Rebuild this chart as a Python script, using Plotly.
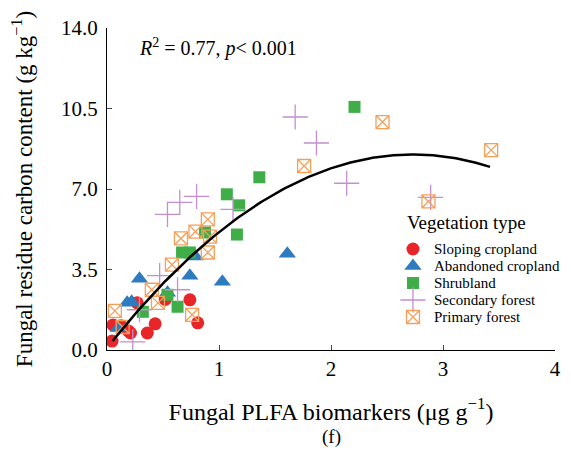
import plotly.graph_objects as go
import numpy as np

# ---- data ----
slope_x = [0.045, 0.054, 0.125, 0.19, 0.21, 0.36, 0.43, 0.27, 0.74, 0.81, 0.52]
slope_y = [0.39, 1.09, 1.05, 0.83, 0.74, 0.74, 1.14, 2.05, 2.18, 1.18, 2.2]

aband_x = [0.10, 0.18, 0.22, 0.29, 0.54, 0.74, 0.79, 1.03, 1.61]
aband_y = [0.96, 2.05, 2.10, 3.10, 2.49, 3.23, 4.06, 2.97, 4.19]

shrub_x = [0.32, 0.54, 0.63, 0.67, 0.74, 0.875, 1.16, 1.18, 1.07, 1.36, 2.21]
shrub_y = [1.66, 2.40, 1.88, 4.24, 4.24, 5.11, 5.02, 6.29, 6.77, 7.51, 10.57]

second_x = [0.23, 0.29, 0.47, 0.63, 0.54, 0.65, 0.80, 1.125, 1.68, 1.87, 2.14, 2.89]
second_y = [0.35, 1.75, 3.23, 2.62, 5.90, 6.42, 6.68, 6.11, 10.13, 9.00, 7.25, 6.64]

primary_x = [0.07, 0.14, 0.40, 0.455, 0.58, 0.76, 0.66, 0.79, 0.92, 0.90, 0.90, 1.76, 2.46, 3.43, 2.87]
primary_y = [1.70, 1.00, 2.62, 2.05, 3.71, 1.53, 4.85, 5.15, 4.93, 4.24, 5.68, 8.00, 9.91, 8.69, 6.46]

# quadratic fit line coefficients and range
fit_c2, fit_c1, fit_c0 = -1.128, 6.159, 0.093
fit_xmin, fit_xmax = 0.05, 3.42

x_ticks = [0, 1, 2, 3, 4]
y_ticks = [0.0, 3.5, 7.0, 10.5, 14.0]
y_tick_labels = ["0.0", "3.5", "7.0", "10.5", "14.0"]

legend_title = "Vegetation type"
series_names = ["Sloping cropland", "Abandoned cropland", "Shrubland", "Secondary forest", "Primary forest"]

FONT = "Liberation Serif"

styles = [
    dict(symbol="circle", size=13, color="#e8262a"),
    dict(symbol="triangle-up", size=15, color="#2f7bbf"),
    dict(symbol="square", size=12, color="#3fae49"),
    dict(symbol="cross-thin-open", size=18, color="#c48fd0", line=dict(width=1.3, color="#c48fd0")),
    dict(symbol="square-x-open", size=13, color="#f5a05a", line=dict(width=1.3, color="#f5a05a")),
]
all_x = [slope_x, aband_x, shrub_x, second_x, primary_x]
all_y = [slope_y, aband_y, shrub_y, second_y, primary_y]

fig = go.Figure()

for name, xs, ys, mk in zip(series_names, all_x, all_y, styles):
    fig.add_trace(go.Scatter(x=xs, y=ys, mode="markers", name=name, marker=mk, showlegend=False))

fx = np.linspace(fit_xmin, fit_xmax, 200)
fy = fit_c2 * fx**2 + fit_c1 * fx + fit_c0
fig.add_trace(go.Scatter(x=fx, y=fy, mode="lines", line=dict(color="black", width=2.5),
                         showlegend=False, hoverinfo="skip"))

# ---- hand-built legend (layout only) on an overlay axis spanning [0,1] ----
LEG_MARK_X = 0.683
LEG_TEXT_X = 0.7254
LEG_TITLE_X = 0.665
LEG_TITLE_Y = 0.3975
LEG_ROW0_Y = 0.3137
LEG_ROW_STEP = 0.0528

annotations = []
for i, (name, mk) in enumerate(zip(series_names, styles)):
    ry = LEG_ROW0_Y - i * LEG_ROW_STEP
    fig.add_trace(go.Scatter(x=[LEG_MARK_X], y=[ry], xaxis="x2", yaxis="y2", mode="markers",
                             marker=mk, showlegend=False, hoverinfo="skip"))
    annotations.append(dict(text=name, x=LEG_TEXT_X, y=ry, xref="paper", yref="paper",
                            xanchor="left", yanchor="middle", showarrow=False,
                            font=dict(size=15, family=FONT)))
annotations.append(dict(text=legend_title, x=LEG_TITLE_X, y=LEG_TITLE_Y, xref="paper", yref="paper",
                        xanchor="left", yanchor="middle", showarrow=False, font=dict(size=19, family=FONT)))
annotations.append(dict(text="<i>R</i><sup>2</sup> = 0.77, <i>p</i>< 0.001", x=0.067, y=0.94,
                        xref="paper", yref="paper", xanchor="left", yanchor="middle", showarrow=False,
                        font=dict(size=20, family=FONT)))
annotations.append(dict(text="(f)", x=0.5, y=-0.27, xref="paper", yref="paper", xanchor="center",
                        yanchor="middle", showarrow=False, font=dict(size=19, family=FONT)))

# page body has an 8px default margin, so the figure is 8px smaller and margins shifted
fig.update_layout(
    width=563, height=446,
    margin=dict(l=99, r=16, t=20, b=104),
    paper_bgcolor="white", plot_bgcolor="white",
    font=dict(family=FONT, color="black"),
    showlegend=False,
    xaxis=dict(
        range=[0, 4], tickvals=x_ticks, ticks="inside", ticklen=5, tickwidth=1,
        showline=True, linecolor="black", linewidth=1, showgrid=False, zeroline=False,
        tickfont=dict(size=21, family=FONT), automargin=False,
        title=dict(text="Fungal PLFA biomarkers (μg g<sup>−1</sup>)", font=dict(size=24, family=FONT), standoff=22),
    ),
    yaxis=dict(
        range=[0, 14], tickvals=y_ticks, ticktext=y_tick_labels, ticks="inside", ticklen=5, tickwidth=1,
        showline=True, linecolor="black", linewidth=1, showgrid=False, zeroline=False,
        tickfont=dict(size=21, family=FONT), automargin=False, ticklabelstandoff=4,
        title=dict(text="Fungal residue carbon content (g kg<sup>−1</sup>)", font=dict(size=23, family=FONT), standoff=22),
    ),
    xaxis2=dict(overlaying="x", range=[0, 1], visible=False, fixedrange=True),
    yaxis2=dict(overlaying="y", range=[0, 1], visible=False, fixedrange=True),
    annotations=annotations,
)

fig.write_html("out.html")
